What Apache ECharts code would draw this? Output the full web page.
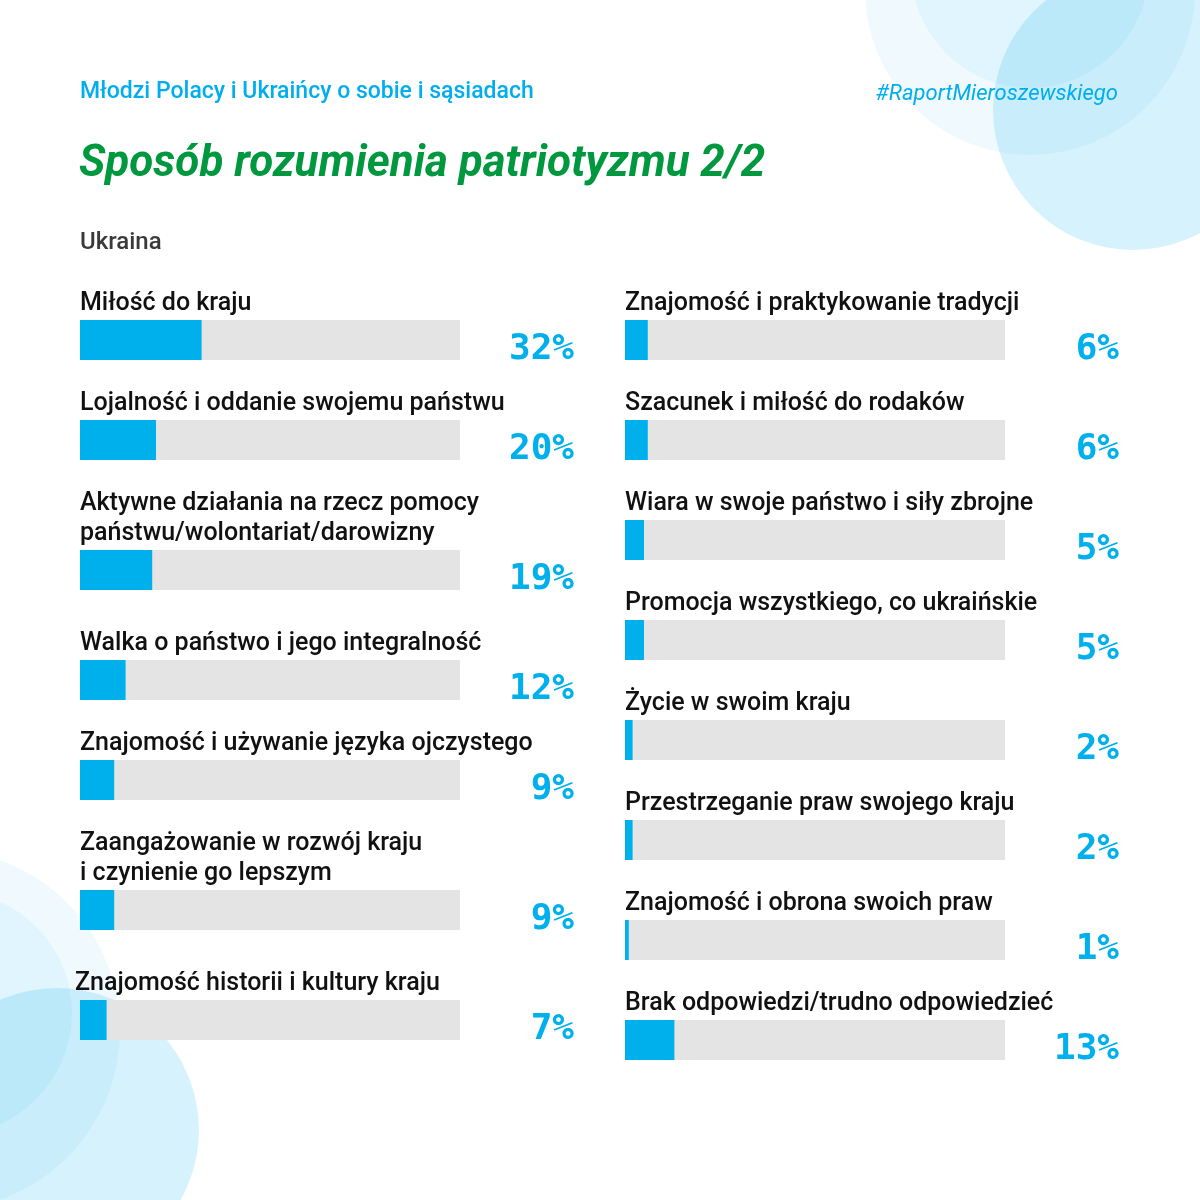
<!DOCTYPE html>
<html>
<head>
<meta charset="utf-8">
<script src="https://cdn.jsdelivr.net/npm/echarts@6/dist/echarts.min.js"></script>
<style>html,body{margin:0;padding:0;background:#fff}#c{width:1200px;height:1200px}</style>
</head>
<body>
<div id="c"></div>
<script>
// ---- data ----
var leftCategories = [
  'Miłość do kraju',
  'Lojalność i oddanie swojemu państwu',
  'Aktywne działania na rzecz pomocy\npaństwu/wolontariat/darowizny',
  'Walka o państwo i jego integralność',
  'Znajomość i używanie języka ojczystego',
  'Zaangażowanie w rozwój kraju\ni czynienie go lepszym',
  'Znajomość historii i kultury kraju'
];
var leftValues = [32, 20, 19, 12, 9, 9, 7];
var rightCategories = [
  'Znajomość i praktykowanie tradycji',
  'Szacunek i miłość do rodaków',
  'Wiara w swoje państwo i siły zbrojne',
  'Promocja wszystkiego, co ukraińskie',
  'Życie w swoim kraju',
  'Przestrzeganie praw swojego kraju',
  'Znajomość i obrona swoich praw',
  'Brak odpowiedzi/trudno odpowiedzieć'
];
var rightValues = [6, 6, 5, 5, 2, 2, 1, 13];
var headerText = 'Młodzi Polacy i Ukraińcy o sobie i sąsiadach';
var hashtagText = '#RaportMieroszewskiego';
var titleText = 'Sposób rozumienia patriotyzmu 2/2';
var subtitleText = 'Ukraina';

// ---- layout ----
var leftX = 80, rightX = 625, barW = 380, barH = 40, pctRight = 494;
var leftTops = [320, 420, 550, 660, 760, 890, 1000];
var rightTops = [320, 420, 520, 620, 720, 820, 920, 1020];
var labelFont = 'Roboto, "Liberation Sans", sans-serif';

var grids = [], xAxes = [], yAxes = [], series = [], titles = [];

titles.push({text: headerText, left: 80, top: 81, padding: 0, textStyle: {fontFamily: labelFont, fontSize: 23, fontWeight: 500, color: '#00aeef'}});
titles.push({text: hashtagText, right: 82, top: 83, padding: 0, textStyle: {fontFamily: labelFont, fontSize: 22, fontWeight: 400, fontStyle: 'italic', color: '#00aeef'}});
titles.push({text: titleText, left: 79, top: 143, padding: 0, textStyle: {fontFamily: labelFont, fontSize: 44, fontWeight: 700, fontStyle: 'italic', color: '#00983f'}});
titles.push({text: subtitleText, left: 80, top: 231, padding: 0, textStyle: {fontFamily: labelFont, fontSize: 24, fontWeight: 500, color: '#3a3a3a'}});

function addColumn(cats, vals, tops, x) {
  cats.forEach(function (name, i) {
    var gi = grids.length;
    var top = tops[i];
    grids.push({left: x, top: top, width: barW, height: barH, containLabel: false});
    xAxes.push({type: 'value', gridIndex: gi, min: 0, max: 100, show: false});
    yAxes.push({type: 'category', gridIndex: gi, data: [name], show: false});
    series.push({
      type: 'bar', xAxisIndex: gi, yAxisIndex: gi, data: [vals[i]],
      barWidth: barH, showBackground: true,
      backgroundStyle: {color: '#e4e4e4'},
      itemStyle: {color: '#00b0ec'},
      label: {show: true, formatter: '{c}%', position: [pctRight, 30], align: 'right', verticalAlign: 'middle',
        fontFamily: '"DejaVu Sans Mono", monospace', fontWeight: 'bold', fontSize: 36, color: '#00b0ec'},
      emphasis: {disabled: true}, silent: true
    });
    var lines = name.split('\n').length;
    var extraX = 0;
    if (x === leftX && i === 6) { extraX = -5; }
    titles.push({
      text: name, left: x + extraX, top: top - 31 - 30 * (lines - 1), padding: 0,
      textStyle: {fontFamily: labelFont, fontSize: 25, fontWeight: 500, color: '#111', lineHeight: 30}
    });
  });
}
addColumn(leftCategories, leftValues, leftTops, leftX);
addColumn(rightCategories, rightValues, rightTops, rightX);

var blue = '0,174,239';
var graphic = [
  {type: 'circle', shape: {cx: 1030, cy: -10, r: 165}, style: {fill: 'rgba(' + blue + ',0.06)'}, z: -10, silent: true},
  {type: 'circle', shape: {cx: 1030, cy: -31, r: 119}, style: {fill: 'rgba(' + blue + ',0.065)'}, z: -9, silent: true},
  {type: 'circle', shape: {cx: 1133, cy: 110, r: 140}, style: {fill: 'rgba(' + blue + ',0.16)'}, z: -8, silent: true},
  {type: 'circle', shape: {cx: -60, cy: 1030, r: 180}, style: {fill: 'rgba(' + blue + ',0.06)'}, z: -10, silent: true},
  {type: 'circle', shape: {cx: -50, cy: 1013, r: 122}, style: {fill: 'rgba(' + blue + ',0.065)'}, z: -9, silent: true},
  {type: 'circle', shape: {cx: 57, cy: 1130, r: 142}, style: {fill: 'rgba(' + blue + ',0.16)'}, z: -8, silent: true}
];

var chart = echarts.init(document.getElementById('c'));
chart.setOption({
  backgroundColor: '#ffffff',
  animation: false,
  title: titles,
  grid: grids,
  xAxis: xAxes,
  yAxis: yAxes,
  series: series,
  graphic: graphic
});
</script>
</body>
</html>
